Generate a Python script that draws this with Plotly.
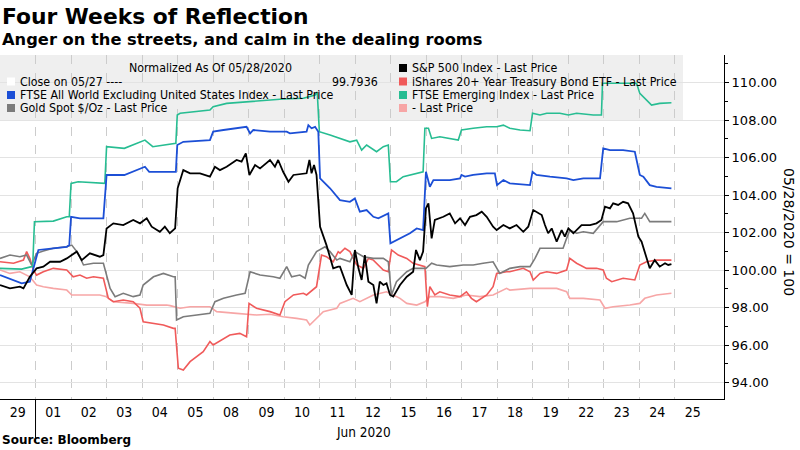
import plotly.graph_objects as go

# ---------------- data ----------------
DAY_LABELS = ["29", "01", "02", "03", "04", "05", "08", "09", "10", "11",
              "12", "15", "16", "17", "18", "19", "22", "23", "24", "25"]
Y_TICKS = [94, 96, 98, 100, 102, 104, 106, 108, 110]

# (trading-day position, normalized value)
FTSE_EM = [(0, 100.09), (0.61, 100.05), (0.89, 100.18), (0.92, 100.18), (0.97, 102.58), (1.5, 102.61),
           (1.88, 102.84), (1.95, 102.84), (2.0, 104.62), (2.2, 104.71), (2.95, 104.62), (3.0, 106.58),
           (3.5, 106.49), (4.08, 106.93), (4.3, 106.58), (4.88, 106.76), (4.95, 106.76), (4.99, 108.27),
           (5.07, 108.36), (5.91, 108.53), (6.0, 108.71), (6.38, 108.89), (6.94, 108.98), (7.41, 109.07),
           (7.97, 109.12), (8.54, 109.16), (8.87, 109.33), (8.93, 109.5), (8.99, 107.38), (9.29, 107.2),
           (9.57, 107.02), (9.85, 106.84), (10.04, 106.93), (10.18, 106.4), (10.32, 106.67), (10.51, 106.4),
           (10.6, 106.31), (10.79, 106.58), (10.93, 106.67), (10.99, 104.71), (11.16, 104.71), (11.35, 104.98),
           (11.73, 105.16), (11.91, 105.24), (11.96, 107.56), (12.06, 107.56), (12.15, 107.02), (12.38, 107.11),
           (12.9, 106.93), (12.99, 107.47), (13.32, 107.56), (13.7, 107.64), (13.98, 107.64), (14.17, 107.73),
           (14.35, 107.56), (14.64, 107.47), (14.92, 107.43), (14.99, 108.36), (15.2, 108.27), (15.39, 108.36),
           (15.76, 108.36), (16.0, 108.27), (16.23, 108.36), (16.7, 108.27), (16.93, 108.27), (16.96, 109.96),
           (17.54, 109.96), (17.92, 109.96), (18.01, 109.42), (18.2, 109.07), (18.34, 108.8), (18.57, 108.89),
           (18.9, 108.92)]

FTSE_AW_EX_US = [(0, 99.73), (0.38, 99.47), (0.61, 99.29), (0.84, 99.38), (0.94, 100.09), (1.08, 101.07),
                 (1.5, 101.16), (1.88, 101.24), (1.95, 101.33), (2.0, 102.84), (2.25, 102.76), (2.91, 102.76),
                 (3.0, 105.07), (3.5, 105.07), (4.08, 105.51), (4.2, 105.24), (4.88, 105.24), (4.95, 105.24),
                 (4.99, 106.67), (5.16, 106.84), (5.91, 106.93), (6.0, 107.38), (6.29, 107.47), (6.94, 107.64),
                 (7.04, 107.29), (7.13, 107.47), (7.6, 107.38), (8.07, 107.38), (8.16, 107.29), (8.63, 107.38),
                 (8.68, 107.73), (8.77, 107.56), (8.87, 107.64), (8.96, 107.38), (9.01, 104.89), (9.29, 104.36),
                 (9.57, 103.73), (9.85, 103.64), (9.99, 103.82), (10.13, 103.11), (10.32, 103.2), (10.51, 102.84),
                 (10.65, 102.76), (10.93, 103.02), (10.99, 101.42), (11.26, 101.69), (11.54, 101.96), (11.73, 102.22),
                 (11.91, 102.13), (11.99, 105.24), (12.1, 104.44), (12.2, 104.8), (12.66, 104.8), (12.95, 104.89),
                 (12.99, 105.07), (13.09, 104.98), (13.32, 105.07), (13.7, 105.16), (13.93, 105.16), (13.99, 104.53),
                 (14.17, 104.8), (14.35, 104.62), (14.92, 104.53), (14.99, 105.24), (15.1, 105.07), (15.48, 104.98),
                 (15.95, 104.89), (16.14, 104.8), (16.42, 104.89), (16.89, 104.89), (16.98, 106.49), (17.17, 106.4),
                 (17.54, 106.4), (17.87, 106.31), (18.01, 105.07), (18.11, 104.98), (18.29, 104.53), (18.48, 104.44),
                 (18.9, 104.36)]

SPX = [(0, 99.2), (0.28, 99.02), (0.56, 99.11), (0.66, 99.02), (0.84, 99.64), (1.03, 100.09), (1.22, 100.18),
       (1.41, 100.44), (1.69, 100.44), (1.88, 100.62), (2.16, 100.98), (2.3, 100.53), (2.53, 100.89),
       (2.81, 100.71), (2.91, 100.8), (3.0, 102.22), (3.19, 102.49), (3.47, 102.4), (3.75, 102.67),
       (3.94, 102.49), (4.13, 102.76), (4.27, 102.31), (4.5, 102.04), (4.64, 102.31), (4.78, 101.96),
       (4.93, 102.22), (5.0, 104.36), (5.16, 105.33), (5.35, 105.16), (5.63, 105.16), (5.91, 104.98),
       (6.05, 105.51), (6.19, 105.33), (6.38, 105.51), (6.66, 105.87), (6.8, 105.78), (6.92, 106.22),
       (7.02, 105.07), (7.18, 105.6), (7.32, 105.42), (7.6, 105.87), (7.74, 105.51), (7.83, 105.87),
       (7.97, 105.24), (8.12, 104.71), (8.26, 105.07), (8.63, 105.16), (8.71, 105.87), (8.77, 105.16),
       (8.84, 105.6), (8.91, 105.07), (9.01, 102.31), (9.19, 101.33), (9.38, 100.09), (9.52, 100.18),
       (9.57, 100.18), (9.76, 99.2), (9.9, 98.67), (9.99, 101.07), (10.09, 100.09), (10.18, 99.47),
       (10.27, 100.8), (10.37, 99.38), (10.51, 99.2), (10.6, 98.22), (10.69, 99.38), (10.79, 99.2),
       (10.88, 99.29), (10.98, 98.67), (11.07, 98.58), (11.26, 99.2), (11.45, 99.64), (11.63, 99.91),
       (11.71, 101.07), (11.82, 100.53), (11.91, 100.98), (11.99, 103.29), (12.06, 103.56), (12.15, 101.69),
       (12.24, 102.67), (12.48, 102.84), (12.66, 103.02), (12.81, 102.49), (12.95, 102.76), (13.09, 102.4),
       (13.23, 102.84), (13.41, 102.93), (13.56, 103.11), (13.7, 102.84), (13.88, 102.31), (13.98, 102.13),
       (14.17, 102.4), (14.35, 102.22), (14.54, 102.4), (14.73, 102.04), (14.87, 102.31), (15.01, 103.2),
       (15.1, 103.11), (15.25, 102.93), (15.34, 102.4), (15.43, 101.96), (15.53, 102.22), (15.67, 101.51),
       (15.81, 102.13), (15.9, 101.78), (16.0, 102.22), (16.14, 101.96), (16.37, 102.4), (16.61, 102.4),
       (16.79, 102.49), (16.93, 102.67), (17.03, 103.38), (17.17, 103.29), (17.26, 103.56), (17.4, 103.47),
       (17.54, 103.64), (17.68, 103.56), (17.82, 103.02), (17.97, 101.78), (18.06, 101.51), (18.2, 100.71),
       (18.29, 100.09), (18.43, 100.53), (18.57, 100.18), (18.72, 100.36), (18.81, 100.27), (18.9, 100.32)]

GOLD = [(0, 100.62), (0.28, 100.8), (0.56, 100.71), (0.75, 100.8), (0.89, 100.27), (1.03, 100.89),
        (1.22, 101.01), (1.5, 101.16), (1.88, 101.24), (2.02, 101.33), (2.2, 100.89), (2.35, 100.27),
        (2.63, 100.36), (2.91, 100.36), (3.1, 99.02), (3.24, 98.58), (3.47, 98.76), (3.75, 98.58),
        (3.94, 98.67), (4.03, 99.2), (4.32, 99.64), (4.6, 99.82), (4.88, 99.64), (4.93, 99.64),
        (4.97, 97.33), (5.16, 97.51), (5.54, 97.6), (5.91, 97.69), (6.05, 98.31), (6.29, 98.49),
        (6.66, 98.67), (6.9, 98.76), (7.04, 99.91), (7.32, 99.73), (7.69, 99.64), (7.88, 99.56),
        (8.07, 100.18), (8.21, 99.64), (8.44, 99.73), (8.59, 99.56), (8.68, 100.27), (8.91, 100.98),
        (9.15, 101.24), (9.29, 100.98), (9.48, 100.53), (9.57, 100.62), (9.85, 100.44), (9.99, 100.98),
        (10.23, 100.71), (10.51, 100.62), (10.79, 100.62), (10.93, 100.44), (11.02, 98.67), (11.16, 99.38),
        (11.45, 99.91), (11.63, 100.09), (11.99, 100.09), (12.15, 100.36), (12.29, 100.27), (12.66, 100.18),
        (13.04, 100.27), (13.32, 100.27), (13.6, 100.36), (13.88, 100.44), (14.07, 99.82), (14.35, 100.09),
        (14.64, 100.18), (14.92, 100.18), (15.06, 100.62), (15.2, 101.16), (15.48, 101.16), (15.85, 101.16),
        (15.95, 101.69), (16.04, 102.13), (16.23, 101.96), (16.42, 102.04), (16.7, 101.96), (16.98, 102.58),
        (17.36, 102.58), (17.73, 102.76), (18.06, 102.76), (18.15, 103.02), (18.29, 102.58), (18.57, 102.58),
        (18.9, 102.58)]

TLT = [(0, 100.44), (0.38, 100.36), (0.66, 100.53), (0.75, 100.98), (0.84, 100.62), (0.94, 100.0),
       (1.03, 99.73), (1.22, 99.91), (1.5, 100.09), (1.88, 100.0), (2.06, 99.64), (2.25, 99.73),
       (2.44, 99.56), (2.63, 99.64), (2.91, 99.56), (3.05, 98.49), (3.19, 98.31), (3.47, 98.4),
       (3.75, 98.31), (3.94, 97.96), (4.03, 97.24), (4.32, 97.16), (4.6, 97.07), (4.88, 96.89),
       (4.93, 96.89), (5.02, 94.76), (5.16, 94.67), (5.35, 95.11), (5.72, 95.64), (5.91, 96.18),
       (6.0, 96.0), (6.47, 96.53), (6.75, 96.62), (6.94, 96.44), (7.01, 98.22), (7.22, 97.96),
       (7.6, 97.78), (7.88, 97.6), (8.02, 98.31), (8.26, 98.67), (8.54, 98.76), (8.63, 98.67),
       (8.91, 99.11), (9.05, 100.8), (9.19, 100.71), (9.38, 100.44), (9.52, 100.98), (9.57, 100.9),
       (9.71, 101.16), (9.85, 100.98), (10.04, 100.27), (10.23, 100.09), (10.37, 100.62), (10.51, 100.53),
       (10.79, 100.0), (10.93, 99.91), (11.02, 101.07), (11.21, 100.8), (11.45, 100.62), (11.63, 100.36),
       (11.82, 100.27), (11.96, 100.18), (12.03, 98.04), (12.1, 99.11), (12.24, 98.67), (12.38, 98.84),
       (12.66, 98.67), (12.95, 98.58), (13.13, 98.84), (13.27, 98.49), (13.41, 98.31), (13.7, 98.67),
       (13.88, 99.11), (13.98, 99.82), (14.26, 99.91), (14.35, 99.91), (14.73, 100.09), (14.92, 99.91),
       (15.01, 99.47), (15.2, 99.82), (15.39, 99.91), (15.67, 99.82), (15.95, 100.0), (16.04, 100.62),
       (16.23, 100.36), (16.51, 100.09), (16.79, 100.09), (16.98, 100.0), (17.07, 99.56), (17.22, 99.38),
       (17.54, 99.56), (17.87, 99.47), (18.01, 100.27), (18.2, 100.44), (18.48, 100.53), (18.9, 100.53)]

UNNAMED = [(0, 100.0), (0.28, 99.82), (0.56, 99.91), (0.84, 99.64), (1.03, 99.2), (1.22, 99.11),
           (1.5, 99.02), (1.88, 98.93), (2.02, 98.67), (2.44, 98.67), (2.81, 98.67), (3.0, 98.58),
           (3.19, 98.31), (3.75, 98.22), (4.13, 98.13), (4.69, 98.13), (4.79, 98.1), (5.07, 97.96),
           (5.35, 98.04), (5.91, 98.04), (6.1, 97.78), (6.66, 97.69), (7.22, 97.6), (7.6, 97.64),
           (7.97, 97.51), (8.35, 97.42), (8.63, 97.33), (8.72, 97.07), (8.91, 97.42), (9.1, 97.78),
           (9.48, 97.96), (9.57, 98.22), (9.94, 98.49), (10.13, 98.31), (10.51, 98.67), (10.88, 98.84),
           (11.07, 98.67), (11.26, 98.49), (11.45, 98.22), (11.73, 98.13), (11.96, 98.31), (12.1, 98.58),
           (12.38, 98.58), (12.76, 98.49), (13.13, 98.67), (13.51, 98.58), (13.88, 98.67), (14.07, 98.84),
           (14.26, 99.02), (14.35, 98.93), (14.92, 99.02), (15.29, 99.02), (15.67, 99.02), (15.95, 98.84),
           (16.04, 98.49), (16.42, 98.49), (16.89, 98.4), (17.03, 97.96), (17.26, 98.04), (17.73, 98.13),
           (18.01, 98.22), (18.15, 98.49), (18.48, 98.67), (18.9, 98.76)]

SERIES = [
    ("- Last Price", UNNAMED, "#f7a6a6", 1.6),
    ("iShares 20+ Year Treasury Bond ETF - Last Price", TLT, "#f05a5a", 1.6),
    ("Gold Spot $/Oz - Last Price", GOLD, "#7b7b7b", 1.6),
    ("FTSE Emerging Index - Last Price", FTSE_EM, "#27bd92", 1.6),
    ("FTSE All World Excluding United States Index - Last Price", FTSE_AW_EX_US, "#1c4fd6", 1.8),
    ("S&P 500 Index - Last Price", SPX, "#000000", 1.8),
]

# ---------------- layout geometry (pixels) ----------------
W, H = 800, 450
PL, PR, PT, PB = 0, 724, 55, 399          # plot area edges
X_MAX = 20.38
Y_MIN, Y_MAX = 93.12, 111.47
LEG_FONT = "Liberation Sans Narrow, DejaVu Sans Condensed, Liberation Sans, sans-serif"
BASE_FONT = "DejaVu Sans, Verdana, sans-serif"


def px(xp):
    return (xp - PL) / (PR - PL)


def py(yp):
    return (PB - yp) / (PB - PT)


fig = go.Figure()
for name, pts, color, width in SERIES:
    fig.add_trace(go.Scatter(
        x=[p[0] for p in pts], y=[p[1] for p in pts], mode="lines", name=name,
        line=dict(color=color, width=width), showlegend=False, hoverinfo="skip"))

shapes = []
# legend background
shapes.append(dict(type="rect", xref="paper", yref="paper", x0=px(0), x1=px(683), y0=py(121), y1=py(55),
                   fillcolor="#efefef", line=dict(width=0), layer="below"))
# month separator
shapes.append(dict(type="line", xref="x", yref="paper", x0=1, x1=1, y0=0, y1=py(441),
                   line=dict(color="#000000", width=1)))

annotations = []


def ann(text, x, y, xanchor="left", size=12.3, family=LEG_FONT, color="#000000", **kw):
    annotations.append(dict(text=text, xref="paper", yref="paper", x=px(x), y=py(y),
                            xanchor=xanchor, yanchor="middle", showarrow=False,
                            font=dict(size=size, family=family, color=color), **kw))


# titles
ann("<b>Four Weeks of Reflection</b>", 0, 16, size=21.8, family=BASE_FONT)
ann("<b>Anger on the streets, and calm in the dealing rooms</b>", 0, 40, size=16.3, family=BASE_FONT)
ann("<b>Source: Bloomberg</b>", 0, 440, size=12, family=BASE_FONT)
ann("Jun 2020", 363, 432, xanchor="center", size=13.5)
ann("05/28/2020 = 100", 789, 232, xanchor="center", size=14, family=BASE_FONT, textangle=90)

# legend contents
ann("Normalized As Of 05/28/2020", 210, 68, xanchor="center")
legend_rows = [
    ("Close on 05/27 ----", "#ffffff", 7, 81.5),
    ("FTSE All World Excluding United States Index - Last Price", "#1c4fd6", 7, 95),
    ("Gold Spot $/Oz - Last Price", "#7b7b7b", 7, 108),
    ("S&P 500 Index - Last Price", "#000000", 399, 68),
    ("iShares 20+ Year Treasury Bond ETF - Last Price", "#f05a5a", 399, 81.5),
    ("FTSE Emerging Index - Last Price", "#27bd92", 399, 95),
    ("- Last Price", "#f7a6a6", 399, 108),
]
for text, color, x0, yc in legend_rows:
    shapes.append(dict(type="rect", xref="paper", yref="paper", x0=px(x0), x1=px(x0 + 8),
                       y0=py(yc + 4), y1=py(yc - 4), fillcolor=color, line=dict(width=0)))
    ann(text, x0 + 11, yc)
ann("99.7936", 380, 81.5, xanchor="right")

fig.update_layout(
    width=W, height=H,
    margin=dict(l=PL, r=W - PR, t=PT, b=H - PB),
    paper_bgcolor="#ffffff", plot_bgcolor="#ffffff",
    shapes=shapes, annotations=annotations,
    showlegend=False,
    xaxis=dict(
        range=[0, X_MAX], showline=True, linecolor="#000000", linewidth=1,
        tickmode="array", tickvals=[i + 0.5 for i in range(len(DAY_LABELS))], ticktext=DAY_LABELS,
        ticks="", showgrid=False, zeroline=False,
        tickfont=dict(family=LEG_FONT, size=14, color="#000000"),
        minor=dict(tickmode="array", tickvals=list(range(1, len(DAY_LABELS))), showgrid=True,
                   griddash="dash", gridcolor="#cccccc", gridwidth=1, ticks=""),
    ),
    yaxis=dict(
        side="right", range=[Y_MIN, Y_MAX], showline=True, linecolor="#000000", linewidth=1,
        tickmode="array", tickvals=Y_TICKS, ticktext=[f"{v:.2f}" for v in Y_TICKS],
        ticks="outside", ticklen=4, tickcolor="#000000",
        showgrid=True, gridcolor="#e3e3e3", gridwidth=1, zeroline=False,
        tickfont=dict(family=BASE_FONT, size=13, color="#000000"),
        minor=dict(tickmode="array", tickvals=[v + 1 for v in Y_TICKS[:-1]] + [111], ticks="outside",
                   ticklen=3, tickcolor="#000000", showgrid=False),
    ),
)

# remove the browser's default 8px page margin so the figure sits at the window's top-left
fig.write_html("out.html", config={"displayModeBar": False},
               post_script="document.body.style.margin='0';")
